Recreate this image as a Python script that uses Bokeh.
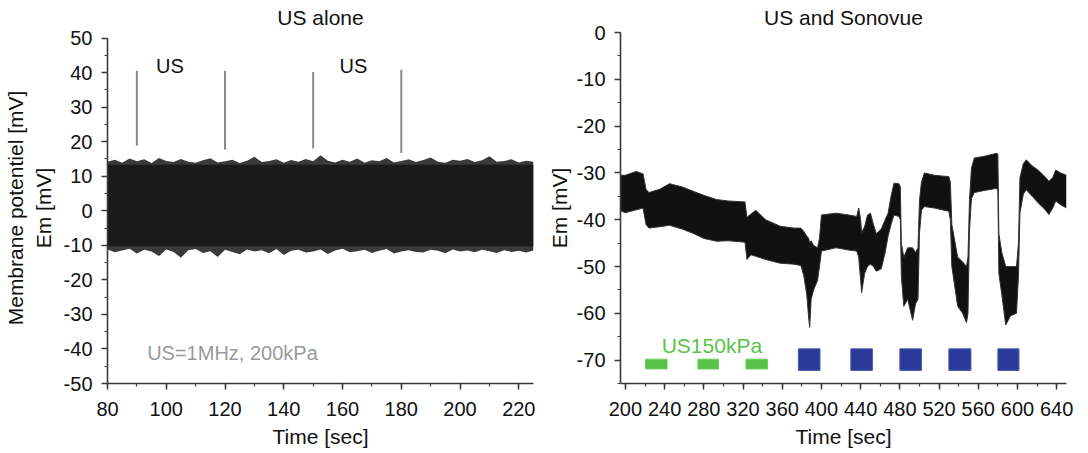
from bokeh.plotting import figure
from bokeh.layouts import row
from bokeh.models import (LinearAxis, SingleIntervalTicker, FixedTicker, Range1d, Label,
                          ColumnDataSource, PrintfTickFormatter, GlobalInlineStyleSheet)
from bokeh.embed import file_html
from bokeh.resources import INLINE

FONT = "Liberation Sans"

# ---------------- Left panel data (US alone) ----------------
left_t = [80, 82.5, 85, 87.5, 90, 92.5, 95, 97.5, 100, 102.5, 105, 107.5, 110, 112.5,
          115, 117.5, 120, 122.5, 125, 127.5, 130, 132.5, 135, 137.5, 140, 142.5, 145,
          147.5, 150, 152.5, 155, 157.5, 160, 162.5, 165, 167.5, 170, 172.5, 175, 177.5,
          180, 182.5, 185, 187.5, 190, 192.5, 195, 197.5, 200, 202.5, 205, 207.5, 210,
          212.5, 215, 217.5, 220, 222.5, 225]
left_top = [14.2, 14.8, 13.9, 15.1, 14.3, 14.9, 13.8, 15.3, 14.4, 14.1, 15.0, 14.2, 13.9,
            14.6, 15.2, 14.0, 14.3, 14.8, 13.8, 14.5, 15.6, 14.1, 14.4, 14.9, 13.9, 14.7,
            14.2, 15.0, 14.3, 16.1, 14.5, 14.0, 14.8, 14.2, 15.1, 13.9, 14.6, 14.3, 15.3,
            14.0, 14.4, 14.9, 14.1, 14.7, 15.4, 14.2, 13.9, 14.8, 14.5, 15.0, 14.1, 14.6,
            15.8, 14.2, 14.4, 14.9, 14.0, 14.5, 14.2]
left_bot = [-11.2, -12.0, -11.5, -11.0, -12.4, -11.3, -11.8, -13.1, -11.2, -11.9, -13.6,
            -11.4, -11.1, -12.2, -11.7, -13.4, -11.3, -11.9, -12.6, -11.2, -11.8, -11.4,
            -12.3, -11.1, -12.8, -11.6, -11.3, -12.1, -11.8, -11.2, -12.5, -11.5, -11.0,
            -12.0, -11.7, -11.3, -12.2, -11.6, -11.1, -12.4, -11.8, -11.4, -11.9, -12.1,
            -11.3, -11.6, -12.3, -11.2, -11.8, -11.5, -12.0, -11.3, -11.7, -12.2, -11.4,
            -11.9, -11.6, -12.1, -11.5]
core_top = 13.3
core_bot = -10.3

us_times = [90, 120, 150, 180]
us_y0 = [18.8, 17.7, 18.0, 16.7]
us_y1 = [40.5, 40.5, 40.2, 40.8]
us_label_x = [96.5, 159]
us_label_y = [42, 42]

# ---------------- Right panel data (US and Sonovue) ----------------
right_t = [194, 200, 211, 218, 221, 224, 235, 245, 258, 270, 280, 293, 305, 322, 324, 328,
           333, 343, 358, 372, 379, 382, 385, 387, 388, 389.5, 392, 396, 398, 400, 415, 428,
           436, 438, 440, 441, 444, 447, 450, 453, 456, 461, 465, 468, 471, 474, 479, 480.5,
           481.5, 484, 488, 493, 496, 498.5, 500, 502, 505, 515, 530, 531.5, 533, 539, 544,
           548, 549.5, 551, 553, 556, 565, 579, 580, 581, 584, 588, 593, 599, 601, 602.5,
           606, 609, 615, 621, 628, 632, 636, 639, 644, 650]
right_top = [-30.5, -30.5, -29.7, -30.2, -33.5, -34.2, -33.5, -32.3, -33.0, -34.0, -34.8,
             -35.7, -36.0, -36.2, -39.5, -38.8, -38.0, -40.0, -41.4, -41.8, -41.8, -42.5,
             -43.5, -44.0, -45.0, -44.5, -45.5, -46.0, -44.0, -39.0, -38.6, -39.0, -39.3,
             -37.5, -40.0, -42.8, -41.5, -39.0, -38.6, -41.0, -43.0, -42.0, -40.0, -38.6,
             -35.0, -32.2, -32.3, -33.0, -45.0, -48.0, -46.0, -46.0, -47.0, -46.0, -36.0,
             -32.0, -30.0, -30.5, -30.8, -32.0, -41.0, -48.0, -49.0, -50.0, -48.0, -36.0,
             -29.0, -26.8, -26.5, -25.8, -26.0, -43.0, -47.0, -50.0, -50.0, -50.0, -45.0,
             -31.0, -28.0, -27.2, -28.5, -29.4, -30.8, -31.8, -31.0, -29.4, -30.0, -30.5]
right_bot = [-38.0, -38.5, -37.9, -37.5, -41.0, -41.8, -41.5, -41.2, -42.0, -43.0, -44.0,
             -44.6, -44.5, -44.8, -48.5, -47.5, -47.8, -48.5, -49.3, -49.5, -49.8, -52.0,
             -56.0, -61.0, -63.0, -57.0, -55.0, -53.0, -50.0, -46.7, -46.0, -46.5, -46.7,
             -48.0, -53.0, -55.6, -51.5, -50.0, -49.5, -50.0, -51.0, -50.5, -47.0, -43.5,
             -41.0, -39.0, -39.3, -40.0, -52.0, -58.5, -57.0, -61.5, -58.0, -57.0, -43.0,
             -38.0, -37.2, -37.5, -38.2, -40.0, -50.0, -58.5, -60.0, -62.0, -60.0, -42.5,
             -35.5, -34.2, -33.8, -33.3, -34.0, -51.5, -56.0, -62.5, -60.5, -60.0, -52.0,
             -38.6, -34.5, -33.6, -35.0, -36.4, -37.8, -38.9, -37.5, -36.0, -36.8, -37.5]

green_start = [220.5, 274, 323]
green_end = [242.5, 295, 345]
green_y = [-69.8, -71.9]
blue_start = [376.5, 430, 480, 530, 580]
blue_end = [398.5, 452, 502, 552.5, 601.5]
blue_y = [-67.6, -72.2]

AX_COL = "#3a3a3a"


def style(p, xint, yint):
    p.xaxis.ticker = SingleIntervalTicker(interval=xint, num_minor_ticks=2)
    p.yaxis.ticker = SingleIntervalTicker(interval=yint, num_minor_ticks=2)
    for ax in (p.xaxis, p.yaxis):
        ax.formatter = PrintfTickFormatter(format="%d")
        ax.axis_line_color = AX_COL
        ax.axis_line_width = 1.6
        ax.major_tick_line_color = AX_COL
        ax.minor_tick_line_color = AX_COL
        ax.major_tick_line_width = 1.5
        ax.minor_tick_line_width = 1.2
        ax.major_tick_out = 6
        ax.major_tick_in = 0
        ax.minor_tick_out = 3
        ax.minor_tick_in = 0
        ax.major_label_text_font = FONT
        ax.major_label_text_font_size = "20px"
        ax.major_label_text_color = "#111111"
        ax.axis_label_text_font = FONT
        ax.axis_label_text_font_size = "21px"
        ax.axis_label_text_font_style = "normal"
        ax.axis_label_text_color = "#111111"
    p.xaxis.major_label_standoff = 12
    p.xaxis.axis_label = "Time [sec]"
    p.xaxis.axis_label_standoff = 6
    p.yaxis.major_label_standoff = 9
    p.grid.visible = False
    p.outline_line_color = None
    p.title.text_font = FONT
    p.title.text_font_size = "21px"
    p.title.text_font_style = "normal"
    p.title.text_color = "#111111"
    p.title.align = "center"
    p.title.standoff = 7


# ---------------- Left figure ----------------
p1 = figure(frame_width=426, frame_height=351, output_backend="svg", toolbar_location=None,
            x_range=Range1d(80, 225), y_range=Range1d(-50, 51.6),
            min_border_left=104, min_border_right=8, min_border_top=25, min_border_bottom=40,
            title="US alone")
style(p1, 20, 10)
p1.yaxis.bounds = (-50, 50)
p1.yaxis.axis_label = "Em [mV]"
p1.yaxis.axis_label_standoff = 6
extra = LinearAxis(axis_label="Membrane potentiel [mV]", ticker=FixedTicker(ticks=[]),
                   axis_line_color=None, major_tick_line_color=None,
                   minor_tick_line_color=None,
                   axis_label_text_font=FONT, axis_label_text_font_size="21px",
                   axis_label_text_font_style="normal", axis_label_text_color="#111111",
                   axis_label_standoff=2)
p1.add_layout(extra, "left")

src_l = ColumnDataSource(dict(t=left_t, top=left_top, bot=left_bot))
p1.varea(x="t", y1="bot", y2="top", source=src_l, fill_color="#3a3a3a")
p1.varea(x=[left_t[0], left_t[-1]], y1=[core_bot, core_bot], y2=[core_top, core_top],
         fill_color="#1a1a1a")

p1.segment(x0=us_times, y0=us_y0, x1=us_times, y1=us_y1, line_color="#8a8a8a", line_width=2)
for xx, yy in zip(us_label_x, us_label_y):
    p1.add_layout(Label(x=xx, y=yy, text="US", text_font=FONT, text_font_size="20px",
                        text_color="#111111", text_baseline="middle", text_align="left"))
p1.add_layout(Label(x=93.5, y=-41.3, text="US=1MHz, 200kPa", text_font=FONT,
                    text_font_size="20px", text_color="#9a9a9a", text_baseline="middle",
                    text_align="left"))

# ---------------- Right figure ----------------
p2 = figure(frame_width=446, frame_height=351, output_backend="svg", toolbar_location=None,
            x_range=Range1d(195, 650), y_range=Range1d(-75, 0),
            min_border_left=79, min_border_right=9, min_border_top=25, min_border_bottom=40,
            title="US and Sonovue")
style(p2, 40, 10)
p2.yaxis.axis_label = "Em [mV]"
p2.yaxis.axis_label_standoff = 3

src_r = ColumnDataSource(dict(t=right_t, top=right_top, bot=right_bot))
p2.varea(x="t", y1="bot", y2="top", source=src_r, fill_color="#111111")
p2.line(x="t", y="top", source=src_r, line_color="#333333", line_width=1)
p2.line(x="t", y="bot", source=src_r, line_color="#333333", line_width=1)

p2.quad(left=green_start, right=green_end, bottom=green_y[1], top=green_y[0],
        fill_color="#58c348", line_color="#6ccf5c", line_width=1)
p2.quad(left=blue_start, right=blue_end, bottom=blue_y[1], top=blue_y[0],
        fill_color="#2b3a9a", line_color="#4a58b0", line_width=1)
p2.add_layout(Label(x=237, y=-66.9, text="US150kPa", text_font=FONT, text_font_size="21px",
                    text_color="#58c348", text_baseline="middle", text_align="left"))

layout = row(p1, p2)
layout.stylesheets = [GlobalInlineStyleSheet(css="html, body { overflow: hidden; }")]
open("out.html", "w").write(file_html(layout, INLINE))
